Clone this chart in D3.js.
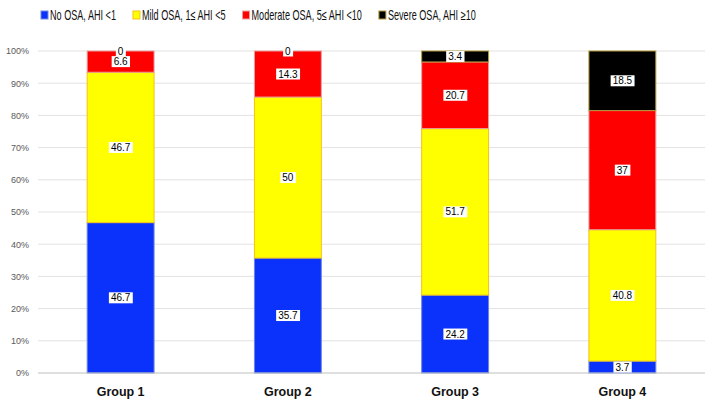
<!DOCTYPE html>
<html>
<head>
<meta charset="utf-8">
<script src="https://cdn.jsdelivr.net/npm/d3@7"></script>
<style>
  body { margin: 0; background: #fff; }
  svg { display: block; font-family: "Liberation Sans", Arial, sans-serif; }
</style>
</head>
<body>
<svg id="chart"></svg>
<script>
const groups = ["Group 1", "Group 2", "Group 3", "Group 4"];
const seriesNames = ["No OSA, AHI <1", "Mild OSA, 1≤ AHI <5", "Moderate OSA, 5≤ AHI <10", "Severe OSA, AHI ≥10"];
const noOsa = [46.7, 35.7, 24.2, 3.7];
const mildOsa = [46.7, 50, 51.7, 40.8];
const moderateOsa = [6.6, 14.3, 20.7, 37];
const severeOsa = [0, 0, 3.4, 18.5];
const yTicks = [0, 10, 20, 30, 40, 50, 60, 70, 80, 90, 100];

const series = [noOsa, mildOsa, moderateOsa, severeOsa];
const fills = ["#0a32fa", "#ffff00", "#ff0000", "#000000"];
const strokes = ["#6f86e0", "#f2c21a", "#e8a0a0", "#b39a3a"];

const width = 714, height = 408;
const margin = { top: 51, right: 8, bottom: 35, left: 37 };

const svg = d3.select("#chart").attr("width", width).attr("height", height);

const x = d3.scaleBand()
    .domain(groups)
    .range([margin.left, width - margin.right])
    .paddingInner(0.6)
    .paddingOuter(0.3);

const y = d3.scaleLinear()
    .domain([0, 100])
    .range([height - margin.bottom, margin.top]);

// build table for stacking
const table = groups.map((g, i) => ({
    group: g,
    s0: noOsa[i],
    s1: mildOsa[i],
    s2: moderateOsa[i],
    s3: severeOsa[i]
}));
const stack = d3.stack().keys(["s0", "s1", "s2", "s3"])(table);

// gridlines
svg.append("g")
    .selectAll("line")
    .data(yTicks.filter(t => t > 0))
    .join("line")
    .attr("x1", margin.left + 1)
    .attr("x2", width - margin.right - 1)
    .attr("y1", d => y(d))
    .attr("y2", d => y(d))
    .attr("stroke", "#e2e2e2")
    .attr("stroke-width", 1);

// y axis labels
const yAxis = d3.axisLeft(y)
    .tickValues(yTicks)
    .tickFormat(d => d + "%")
    .tickSize(0)
    .tickPadding(8);

svg.append("g")
    .attr("transform", `translate(${margin.left},0)`)
    .call(yAxis)
    .call(g => g.select(".domain").remove())
    .call(g => g.selectAll("text")
        .attr("font-size", "9px")
        .attr("fill", "#595959")
        .attr("font-family", "'Liberation Sans', Arial, sans-serif"));

// bars
const layers = svg.append("g")
    .selectAll("g")
    .data(stack)
    .join("g")
    .attr("fill", (d, i) => fills[i])
    .attr("stroke", (d, i) => strokes[i])
    .attr("stroke-width", 1);

layers.selectAll("rect")
    .data(d => d)
    .join("rect")
    .attr("x", d => x(d.data.group))
    .attr("width", x.bandwidth())
    .attr("y", d => y(d[1]))
    .attr("height", d => y(d[0]) - y(d[1]))
    .attr("stroke-opacity", d => (d[1] - d[0]) > 0 ? 1 : 0);

// baseline
svg.append("line")
    .attr("x1", margin.left + 1)
    .attr("x2", width - margin.right - 1)
    .attr("y1", y(0))
    .attr("y2", y(0))
    .attr("stroke", "#bfbfbf")
    .attr("stroke-width", 1.2);

// data labels
const labels = svg.append("g");
stack.forEach((layer, li) => {
    layer.forEach((d, gi) => {
        const value = series[li][gi];
        const cx = x(d.data.group) + x.bandwidth() / 2;
        const cy = y((d[0] + d[1]) / 2);
        const g = labels.append("g").attr("transform", `translate(${cx},${cy})`);
        const rect = g.append("rect").attr("fill", "#fff");
        const t = g.append("text")
            .attr("text-anchor", "middle")
            .attr("dy", "0.35em")
            .attr("font-size", "10px")
            .attr("fill", "#000")
            .text(value);
        const bb = t.node().getBBox();
        rect.attr("x", bb.x - 2)
            .attr("y", bb.y)
            .attr("width", bb.width + 4)
            .attr("height", bb.height);
    });
});

// category labels
svg.append("g")
    .selectAll("text")
    .data(groups)
    .join("text")
    .attr("x", d => x(d) + x.bandwidth() / 2)
    .attr("y", y(0) + 23)
    .attr("text-anchor", "middle")
    .attr("font-size", "12.5px")
    .attr("font-weight", "bold")
    .attr("fill", "#111")
    .text(d => d);

// legend (text squeezed a bit to get the narrow look of the original)
const legend = svg.append("g").attr("transform", "translate(41,15)");
const squeeze = 0.65;
let lx = 0;
seriesNames.forEach((name, i) => {
    const item = legend.append("g").attr("transform", `translate(${lx},0)`);
    item.append("rect")
        .attr("x", 0).attr("y", -4)
        .attr("width", 7).attr("height", 8)
        .attr("fill", fills[i])
        .attr("stroke", strokes[i]);
    const t = item.append("text")
        .attr("transform", `translate(9,0) scale(${squeeze},1)`)
        .attr("dy", "0.35em")
        .attr("font-size", "14px")
        .attr("fill", "#111")
        .text(name);
    lx += 9 + t.node().getComputedTextLength() * squeeze + 17;
});
</script>
</body>
</html>
